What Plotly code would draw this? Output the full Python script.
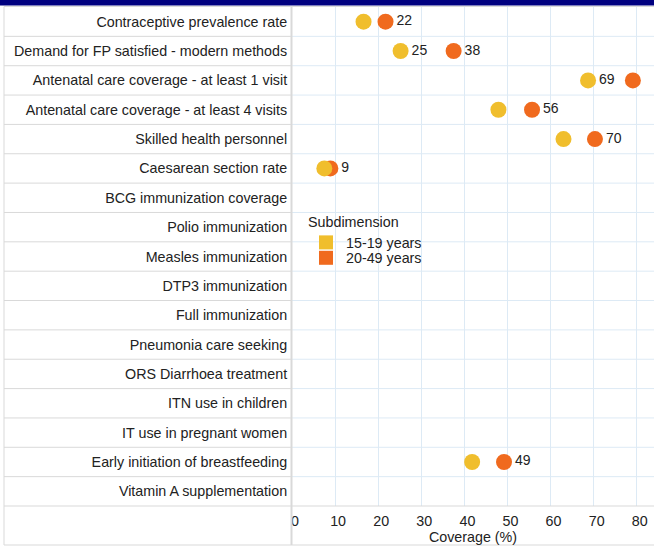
import plotly.graph_objects as go

# ---- data ----
categories = [
    "Contraceptive prevalence rate",
    "Demand for FP satisfied - modern methods",
    "Antenatal care coverage - at least 1 visit",
    "Antenatal care coverage - at least 4 visits",
    "Skilled health personnel",
    "Caesarean section rate",
    "BCG immunization coverage",
    "Polio immunization",
    "Measles immunization",
    "DTP3 immunization",
    "Full immunization",
    "Pneumonia care seeking",
    "ORS Diarrhoea treatment",
    "ITN use in children",
    "IT use in pregnant women",
    "Early initiation of breastfeeding",
    "Vitamin A supplementation",
]
series_names = ["15-19 years", "20-49 years"]
values_15_19 = [16.6, 25.2, 68.7, 47.9, 63.0, 7.5, None, None, None, None, None, None, None, None, None, 41.8, None]
values_20_49 = [21.7, 37.5, 79.1, 55.7, 70.3, 8.9, None, None, None, None, None, None, None, None, None, 49.2, None]
show_label_15_19 = [False, True, True, False, False, False, False, False, False, False, False, False, False, False, False, False, False]
show_label_20_49 = [True, True, False, True, True, True, False, False, False, False, False, False, False, False, False, True, False]
x_ticks = [0, 10, 20, 30, 40, 50, 60, 70, 80]
x_title = "Coverage (%)"
legend_title = "Subdimension"

# ---- style ----
W, H = 654, 547
L, T, B, R = 292, 7, 41, 0
PW, PH = W - L - R, H - T - B
YELLOW = "#F0BE2D"
ORANGE = "#F06A1E"
GRID = "#DDEAF5"
GRAY = "#D9D9D9"
TXT = "#222222"
FONT = "Liberation Sans, Arial, sans-serif"
FS = 14.3


def px_x(p):
    return (p - L) / PW


def px_y(p):
    return 1 - (p - T) / PH


ypos = list(range(len(categories)))


def labels(vals, show):
    return [f"{v:.0f}" if (v is not None and s) else "" for v, s in zip(vals, show)]


fig = go.Figure()
# orange first so yellow sits on top
fig.add_trace(go.Scatter(
    x=values_20_49, y=ypos, mode="markers+text", name=series_names[1],
    marker=dict(color=ORANGE, size=16, symbol="circle"),
    text=labels(values_20_49, show_label_20_49), textposition="middle right",
    textfont=dict(size=14, color=TXT, family=FONT), showlegend=False, cliponaxis=False))
fig.add_trace(go.Scatter(
    x=values_15_19, y=ypos, mode="markers+text", name=series_names[0],
    marker=dict(color=YELLOW, size=16, symbol="circle"),
    text=labels(values_15_19, show_label_15_19), textposition="middle right",
    textfont=dict(size=14, color=TXT, family=FONT), showlegend=False, cliponaxis=False))
# legend entries with square swatches
for nm, col, lg in zip(series_names, [YELLOW, ORANGE], ["legend", "legend2"]):
    fig.add_trace(go.Scatter(x=[None], y=[None], mode="markers", name=nm,
                             marker=dict(color=col, size=14, symbol="square"),
                             showlegend=True, legend=lg))

shapes = []
# navy top bar
shapes.append(dict(type="rect", xref="paper", yref="paper", x0=px_x(0), x1=px_x(W),
                   y0=px_y(0), y1=px_y(5.5), fillcolor="#000080", line=dict(width=0), layer="above"))
# top gray line
shapes.append(dict(type="line", xref="paper", yref="paper", x0=px_x(4), x1=px_x(W),
                   y0=px_y(6.5), y1=px_y(6.5), line=dict(color=GRAY, width=1)))
# row boundaries
for k in range(1, len(categories)):
    yb = k - 0.5
    shapes.append(dict(type="line", xref="paper", yref="y", x0=px_x(4), x1=0,
                       y0=yb, y1=yb, line=dict(color=GRAY, width=1)))
    shapes.append(dict(type="line", xref="paper", yref="y", x0=0, x1=1,
                       y0=yb, y1=yb, line=dict(color=GRID, width=1), layer="below"))
# bottom of plot
shapes.append(dict(type="line", xref="paper", yref="paper", x0=px_x(4), x1=px_x(W),
                   y0=0, y1=0, line=dict(color=GRAY, width=1)))
# outer bottom border
shapes.append(dict(type="line", xref="paper", yref="paper", x0=px_x(4), x1=px_x(W),
                   y0=px_y(545), y1=px_y(545), line=dict(color=GRAY, width=1)))
# left border
shapes.append(dict(type="line", xref="paper", yref="paper", x0=px_x(4), x1=px_x(4),
                   y0=px_y(6.5), y1=px_y(545), line=dict(color=GRAY, width=1)))
# divider
shapes.append(dict(type="line", xref="paper", yref="paper", x0=px_x(291.5), x1=px_x(291.5),
                   y0=px_y(6.5), y1=px_y(545), line=dict(color=GRAY, width=2)))

leg_common = dict(xanchor="left", yanchor="top", bgcolor="rgba(0,0,0,0)",
                  font=dict(size=FS, color=TXT), itemwidth=30)

fig.update_layout(
    width=W, height=H,
    margin=dict(l=L, r=R, t=T, b=B, pad=0),
    paper_bgcolor="white", plot_bgcolor="white",
    font=dict(family=FONT, size=FS, color=TXT),
    shapes=shapes,
    showlegend=True,
    legend=dict(x=px_x(306), y=px_y(208),
                title=dict(text=legend_title, font=dict(size=FS)), **leg_common),
    legend2=dict(x=px_x(306), y=px_y(242), **leg_common),
    xaxis=dict(range=[0, 84], tickvals=x_ticks, showgrid=True, gridcolor=GRID, gridwidth=1,
               zeroline=False, showline=False, ticks="outside", ticklen=2,
               tickcolor="rgba(0,0,0,0)", tickfont=dict(size=FS, color=TXT),
               ticklabelshift=3,
               title=dict(text=x_title, font=dict(size=FS, color=TXT), standoff=0),
               automargin=False, fixedrange=True),
    yaxis=dict(range=[len(categories) - 0.5, -0.5], tickvals=ypos, ticktext=categories,
               showgrid=False, zeroline=False, showline=False, ticks="outside", ticklen=1,
               tickcolor="rgba(0,0,0,0)", tickfont=dict(size=FS, color=TXT),
               automargin=False, fixedrange=True),
)

fig.write_html("out.html", config={"displayModeBar": False},
               post_script="document.body.style.margin='0';document.body.style.overflow='hidden';")
